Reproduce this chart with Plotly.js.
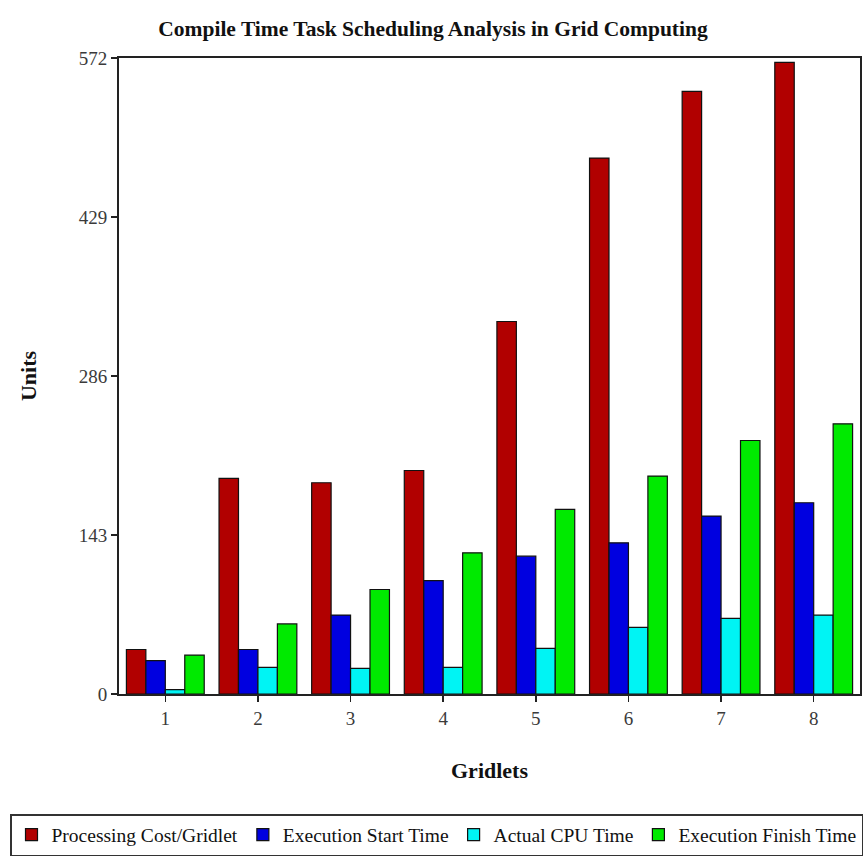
<!DOCTYPE html>
<html>
<head>
<meta charset="utf-8">
<script src="https://cdn.plot.ly/plotly-3.0.1.min.js"></script>
<style>
  html, body { margin: 0; padding: 0; background: #ffffff; }
  #chart { width: 866px; height: 857px; }
</style>
</head>
<body>
<div id="chart"></div>
<script>
// Gridlet numbers on the x axis
const gridlets = [1, 2, 3, 4, 5, 6, 7, 8];

// Series values (units)
const processingCost = [40, 194, 190, 201, 335, 482, 542, 568];
const execStartTime  = [30, 40, 71, 102, 124, 136, 160, 172];
const actualCpuTime  = [4, 24, 23, 24, 41, 60, 68, 71];
const execFinishTime = [35, 63, 94, 127, 166, 196, 228, 243];

// Y axis ticks
const yTicks = [0, 143, 286, 429, 572];

const seriesNames = ["Processing Cost/Gridlet", "Execution Start Time", "Actual CPU Time", "Execution Finish Time"];
const seriesColors = ["#b10000", "#0000e0", "#00f4f4", "#00ea00"];
const seriesValues = [processingCost, execStartTime, actualCpuTime, execFinishTime];

const serif = "Liberation Serif, Times New Roman, serif";

const traces = seriesValues.map((vals, i) => ({
  type: "bar",
  name: seriesNames[i],
  x: gridlets,
  y: vals,
  marker: { color: seriesColors[i], line: { color: "#111111", width: 1.2 } },
  hoverinfo: "x+y+name"
}));

// plot area in pixels, used to place the legend box in paper units
const W = 866, H = 857;
const M = { l: 119, r: 6, t: 58, b: 163 };
const plotW = W - M.l - M.r;
const plotH = H - M.t - M.b;

const layout = {
  width: W,
  height: H,
  paper_bgcolor: "#ffffff",
  plot_bgcolor: "#ffffff",
  margin: { l: M.l, r: M.r, t: M.t, b: M.b, autoexpand: false },
  barmode: "group",
  bargap: 0.16,
  bargroupgap: 0,
  title: {
    text: "<b>Compile Time Task Scheduling Analysis in Grid Computing</b>",
    font: { family: serif, size: 21.5, color: "#111111" },
    x: 0.5, xref: "container", xanchor: "center",
    y: 1 - 28 / H, yref: "container", yanchor: "middle"
  },
  xaxis: {
    range: [0.5, 8.5],
    tickvals: gridlets,
    ticktext: gridlets.map(String),
    ticks: "outside", ticklen: 6, tickwidth: 1.5, tickcolor: "#222222",
    showline: true, linecolor: "#222222", linewidth: 2, mirror: true,
    showgrid: false, zeroline: false,
    tickfont: { family: serif, size: 19, color: "#3a3a3a" },
    title: {
      text: "<b>Gridlets</b>",
      font: { family: serif, size: 22, color: "#111111" },
      standoff: 35
    },
    fixedrange: true
  },
  yaxis: {
    range: [0, 572],
    tickvals: yTicks,
    ticktext: yTicks.map(String),
    ticks: "outside", ticklen: 6, tickwidth: 1.5, tickcolor: "#222222",
    showline: true, linecolor: "#222222", linewidth: 2, mirror: true,
    showgrid: false, zeroline: false,
    tickfont: { family: serif, size: 19, color: "#3a3a3a" },
    title: {
      text: "<b>Units</b>",
      font: { family: serif, size: 22, color: "#111111" },
      standoff: 36
    },
    fixedrange: true
  },
  showlegend: true,
  legend: {
    orientation: "h",
    xref: "paper", yref: "paper",
    x: (10 - M.l) / plotW, xanchor: "left",
    y: -(814 - (H - M.b)) / plotH, yanchor: "top",
    bordercolor: "#333333", borderwidth: 1.5,
    bgcolor: "#ffffff",
    font: { family: serif, size: 19.5, color: "#111111" },
    itemwidth: 30,
    traceorder: "normal"
  }
};

Plotly.newPlot("chart", traces, layout, { displayModeBar: false, staticPlot: true });
</script>
</body>
</html>
